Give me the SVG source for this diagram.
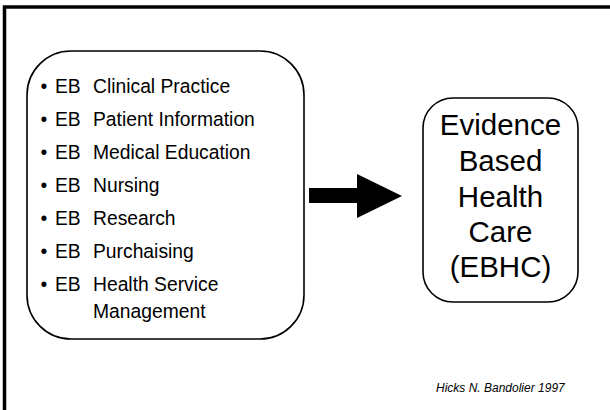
<svg xmlns="http://www.w3.org/2000/svg" width="610" height="410" viewBox="0 0 610 410">
<style>
.box{fill:#fff;stroke:#000;stroke-width:1.6}
.li{font-family:"Liberation Sans",Arial,sans-serif;font-size:19.3px;fill:#000}
.big{font-family:"Liberation Sans",Arial,sans-serif;font-size:29.5px;fill:#000;text-anchor:middle}
.cite{font-family:"Liberation Sans",Arial,sans-serif;font-size:12px;font-style:italic;fill:#000}
</style>
<rect width="610" height="410" fill="#fff"/>
<g id="frame">
<path d="M4.5 410 V7 H610" fill="none" stroke="#000" stroke-width="3.5"/>
</g>
<g id="list-node">
<rect class="box" x="27" y="51" width="277" height="288" rx="44" ry="44"/>
<g class="li">
<text x="40.5" y="93">•</text><text x="55" y="93">EB</text><text x="93" y="93">Clinical Practice</text>
<text x="40.5" y="126">•</text><text x="55" y="126">EB</text><text x="93" y="126">Patient Information</text>
<text x="40.5" y="159">•</text><text x="55" y="159">EB</text><text x="93" y="159">Medical Education</text>
<text x="40.5" y="192">•</text><text x="55" y="192">EB</text><text x="93" y="192">Nursing</text>
<text x="40.5" y="225">•</text><text x="55" y="225">EB</text><text x="93" y="225">Research</text>
<text x="40.5" y="258">•</text><text x="55" y="258">EB</text><text x="93" y="258">Purchaising</text>
<text x="40.5" y="291">•</text><text x="55" y="291">EB</text><text x="93" y="291">Health Service</text>
<text x="93" y="318">Management</text>
</g>
</g>
<g id="connectors">
<polygon points="309,188 357,188 357,174 402,196 357,218 357,203 309,203" fill="#000"/>
</g>
<g id="ebhc-node">
<rect class="box" x="423" y="98" width="155" height="204" rx="30" ry="30"/>
<text class="big" x="500.5" y="135">Evidence</text>
<text class="big" x="500.5" y="171">Based</text>
<text class="big" x="500.5" y="206.5">Health</text>
<text class="big" x="500.5" y="242">Care</text>
<text class="big" x="500.5" y="277">(EBHC)</text>
</g>
<g id="citation">
<text class="cite" x="436" y="392">Hicks N. Bandolier 1997</text>
</g>
</svg>
